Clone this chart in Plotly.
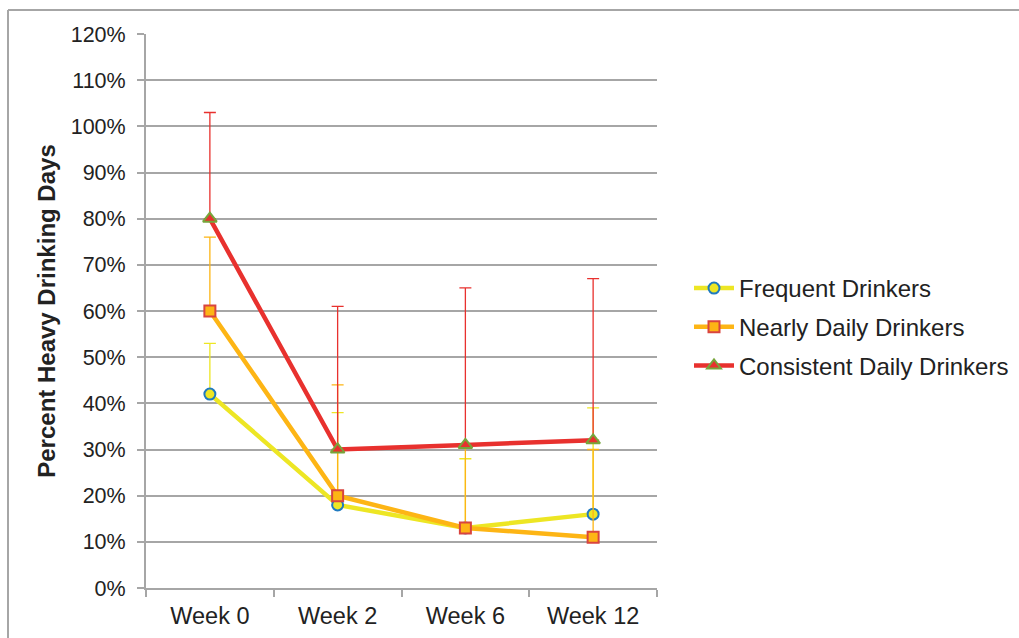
import plotly.graph_objects as go

weeks = ["Week 0", "Week 2", "Week 6", "Week 12"]

frequent = [0.42, 0.18, 0.13, 0.16]
frequent_err = [0.11, 0.20, 0.15, 0.23]

nearly_daily = [0.60, 0.20, 0.13, 0.11]
nearly_daily_err = [0.16, 0.24, 0.18, 0.19]

consistent = [0.80, 0.30, 0.31, 0.32]
consistent_err = [0.23, 0.31, 0.34, 0.35]

y_ticks = [i / 10 for i in range(13)]

series = [
    ("Frequent Drinkers", frequent, frequent_err, "#EDE624", "circle", 11, "#EDE624", "#1F7AC0"),
    ("Nearly Daily Drinkers", nearly_daily, nearly_daily_err, "#FDB515", "square", 11, "#FDB515", "#D9443F"),
    ("Consistent Daily Drinkers", consistent, consistent_err, "#E8312E", "triangle-up", 12, "#E8312E", "#77A53B"),
]

fig = go.Figure()
for name, vals, errs, color, symbol, size, fill, edge in series:
    fig.add_trace(go.Scatter(
        x=weeks, y=vals, name=name, mode="lines+markers", legendgroup=name,
        line=dict(color=color, width=4.5),
        marker=dict(symbol=symbol, size=size, color=fill, line=dict(color=edge, width=2)),
        error_y=dict(type="data", array=errs, arrayminus=[0] * len(errs), symmetric=False,
                     color=color, thickness=1.3, width=6),
    ))

grid = "#A6A6A6"
fig.update_layout(
    width=1019, height=638,
    margin=dict(l=146, r=362, t=34, b=50, autoexpand=False),
    paper_bgcolor="white", plot_bgcolor="white",
    font=dict(family="Arial, Liberation Sans, sans-serif", color="#222222", size=21),
    showlegend=True,
    legend=dict(xref="container", yref="container", x=689 / 1019, y=1 - 327 / 638,
                xanchor="left", yanchor="middle",
                font=dict(size=24, color="#222222"), itemwidth=40,
                tracegroupgap=4.5, bgcolor="rgba(0,0,0,0)"),
    xaxis=dict(type="category", range=[-0.5, 3.5], showgrid=False,
               showline=True, linecolor=grid, linewidth=2,
               ticks="outside", tickson="boundaries", ticklen=7, tickcolor=grid, tickwidth=2,
               tickfont=dict(size=23.5), ticklabelstandoff=6, fixedrange=True),
    yaxis=dict(range=[0, 1.2], tickvals=y_ticks, tickformat=".0%",
               showgrid=True, gridcolor=grid, gridwidth=1.6,
               showline=True, linecolor=grid, linewidth=2,
               ticks="outside", ticklen=7, tickcolor=grid, tickwidth=2,
               tickfont=dict(size=21.5), ticklabelstandoff=7, zeroline=False,
               title=dict(text="<b>Percent Heavy Drinking Days</b>", font=dict(size=24), standoff=8),
               fixedrange=True),
)

# outer chart frame
fig.add_shape(type="line", xref="paper", yref="paper",
              x0=-138 / 511, x1=(1019 - 146) / 511 + 0.01, y0=(588 - 10) / 554, y1=(588 - 10) / 554,
              line=dict(color="#A6A6A6", width=2))
fig.add_shape(type="line", xref="paper", yref="paper",
              x0=-138 / 511, x1=-138 / 511, y0=(588 - 10) / 554, y1=-0.2,
              line=dict(color="#A6A6A6", width=2))

fig.write_html("out.html")
